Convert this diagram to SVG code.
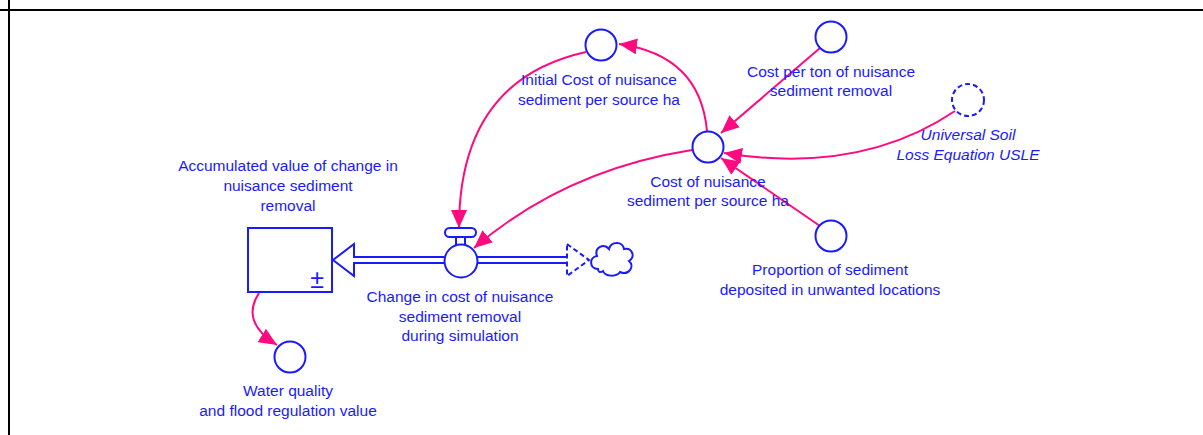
<svg xmlns="http://www.w3.org/2000/svg" width="1203" height="435" viewBox="0 0 1203 435">
  <style>
    .lbl { font-family: "Liberation Sans", Arial, sans-serif; font-size: 15.5px; fill: #1a1aff; text-anchor: middle; }
    .it { font-style: italic; }
    .aux { fill: #fff; stroke: #1a1aff; stroke-width: 2; }
    .link { fill: none; stroke: #ff0a7f; stroke-width: 2; }
    .pipe { fill: none; stroke: #1a1aff; stroke-width: 2; }
  </style>
  <defs>
    <marker id="arr" markerUnits="userSpaceOnUse" markerWidth="20" markerHeight="16" refX="18" refY="8" orient="auto">
      <path d="M0,0 L18,8 L0,16 Z" fill="#ff0a7f"/>
    </marker>
  </defs>

  <rect width="1203" height="435" fill="#fff"/>
  <!-- frame -->
  <line x1="0" y1="10" x2="1203" y2="10" stroke="#000" stroke-width="2"/>
  <line x1="9" y1="0" x2="9" y2="435" stroke="#000" stroke-width="2"/>

  <!-- connectors -->
  <g id="connectors">
    <path class="link" d="M707,131 Q700,55 619,44" marker-end="url(#arr)"/>
    <path class="link" d="M586,52 Q459,80 459,228" marker-end="url(#arr)"/>
    <path class="link" d="M692,150 Q565,170 474,248" marker-end="url(#arr)"/>
    <path class="link" d="M820,48 L721,133" marker-end="url(#arr)"/>
    <path class="link" d="M955,111 Q860,175 724,153" marker-end="url(#arr)"/>
    <path class="link" d="M820,226 L721,158" marker-end="url(#arr)"/>
    <path class="link" d="M259,293 Q240,322 277,345" marker-end="url(#arr)"/>
  </g>

  <!-- stock -->
  <g id="stock">
    <rect x="248" y="228" width="84" height="64" fill="#fff" stroke="#1a1aff" stroke-width="2"/>
    <text x="317" y="288" class="lbl" style="font-size:25px">±</text>
    <text class="lbl" x="288" y="171">Accumulated value of change in</text>
    <text class="lbl" x="288" y="191">nuisance sediment</text>
    <text class="lbl" x="288" y="211">removal</text>
  </g>

  <!-- flow -->
  <g id="flow">
    <!-- pipe to stock -->
    <path class="pipe" d="M444,257 L354,257 L354,244 L333,260 L354,276 L354,263 L444,263"/>
    <!-- pipe from cloud -->
    <path class="pipe" d="M477,257 L567,257 M477,263 L567,263"/>
    <path class="pipe" d="M567,244 L589,260 L567,276 Z" stroke-dasharray="5,3"/>
    <!-- valve -->
    <rect x="445" y="228" width="31" height="9" rx="4.5" fill="#fff" stroke="#1a1aff" stroke-width="2"/>
    <path class="pipe" d="M456,237 L456,245 M465,237 L465,245"/>
    <circle class="aux" cx="461" cy="261" r="16.5"/>
    <text class="lbl" x="460" y="302">Change in cost of nuisance</text>
    <text class="lbl" x="460" y="322">sediment removal</text>
    <text class="lbl" x="460" y="341">during simulation</text>
  </g>

  <!-- cloud -->
  <g id="cloud">
    <path d="M598,269 C589,269 589,257 597,256 C594,247 604,243 609,249 C611,241 623,241 624,249 C632,247 636,257 629,261 C635,266 629,276 620,272 C617,277 605,277 603,271 C600,273 598,272 598,269 Z" fill="#fff" stroke="#1a1aff" stroke-width="2"/>
  </g>

  <g id="initial_cost">
    <circle class="aux" cx="601" cy="45" r="15.5"/>
    <text class="lbl" x="599" y="85">Initial Cost of nuisance</text>
    <text class="lbl" x="599" y="105">sediment per source ha</text>
  </g>

  <g id="cost_per_ton">
    <circle class="aux" cx="831" cy="37" r="15.5"/>
    <text class="lbl" x="831" y="77">Cost per ton of nuisance</text>
    <text class="lbl" x="831" y="96">sediment removal</text>
  </g>

  <g id="usle">
    <circle cx="968" cy="100" r="16" fill="#fff" stroke="#1a1aff" stroke-width="2" stroke-dasharray="5,3"/>
    <text class="lbl it" x="968" y="140">Universal Soil</text>
    <text class="lbl it" x="968" y="160">Loss Equation USLE</text>
  </g>

  <g id="cost_source">
    <circle class="aux" cx="708" cy="147" r="15.5"/>
    <text class="lbl" x="708" y="187">Cost of nuisance</text>
    <text class="lbl" x="708" y="206">sediment per source ha</text>
  </g>

  <g id="proportion">
    <circle class="aux" cx="831" cy="236" r="15.5"/>
    <text class="lbl" x="830" y="275">Proportion of sediment</text>
    <text class="lbl" x="830" y="295">deposited in unwanted locations</text>
  </g>

  <g id="water_quality">
    <circle class="aux" cx="290" cy="357" r="15.5"/>
    <text class="lbl" x="288" y="396">Water quality</text>
    <text class="lbl" x="288" y="416">and flood regulation value</text>
  </g>
</svg>
